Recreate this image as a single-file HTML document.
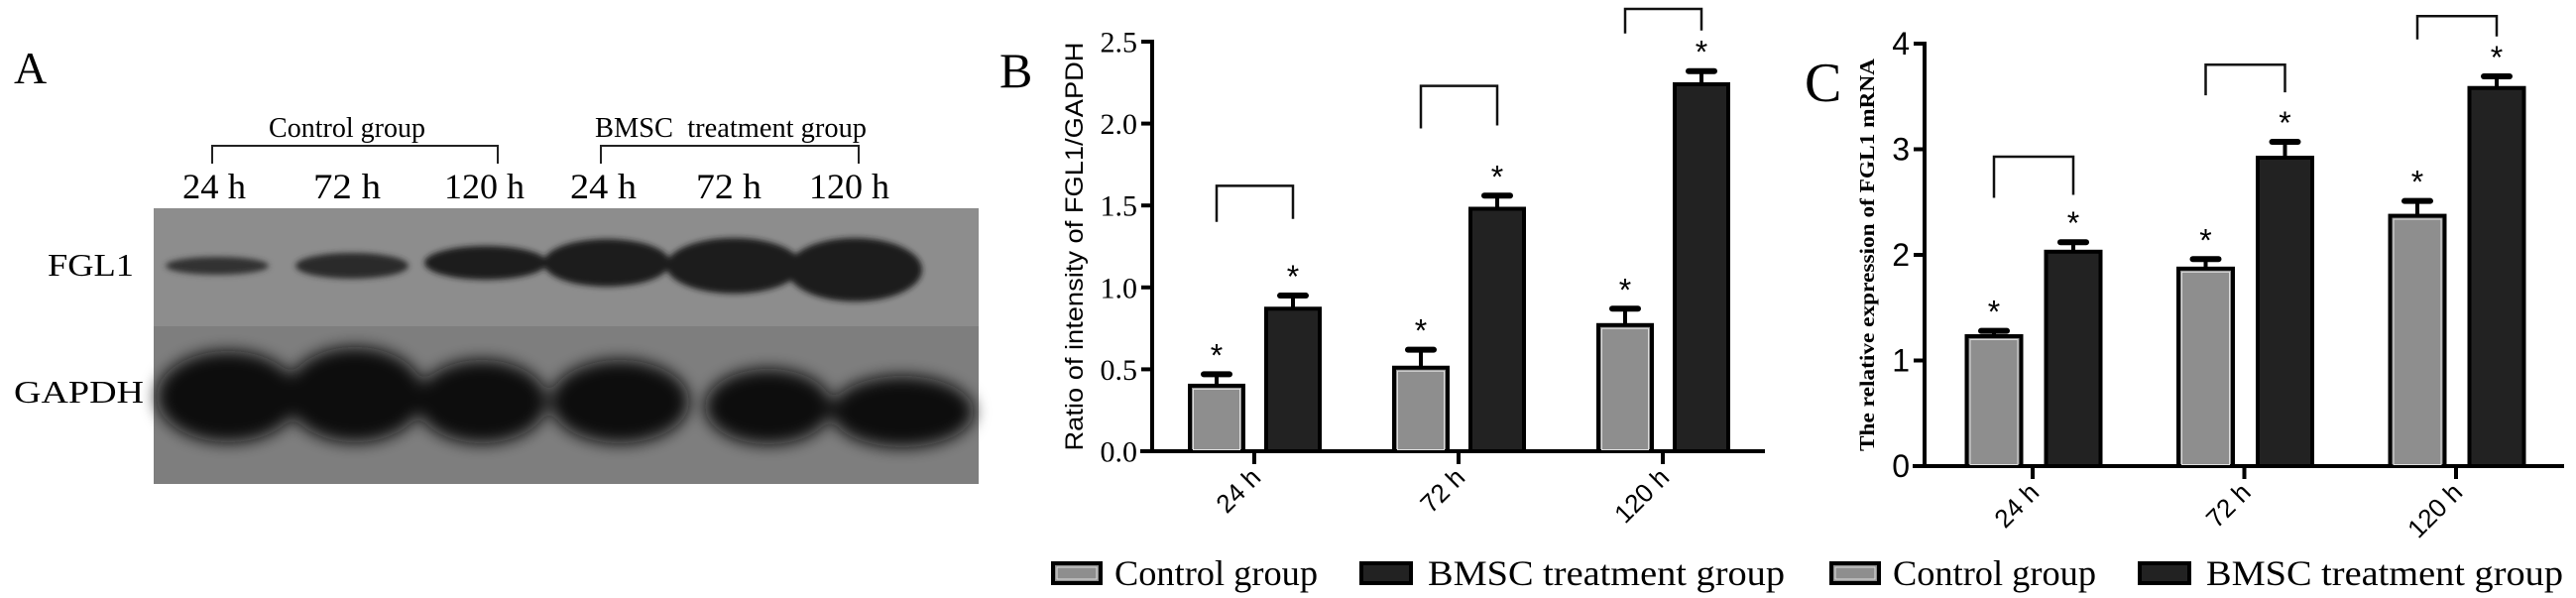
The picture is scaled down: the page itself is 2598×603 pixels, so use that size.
<!DOCTYPE html>
<html><head><meta charset="utf-8"><style>
html,body{margin:0;padding:0;background:#fff;}
svg{display:block;}
</style></head><body>
<svg id="fig" width="2598" height="603" viewBox="0 0 2598 603" xmlns="http://www.w3.org/2000/svg">
<defs>
<filter id="blur6" x="-30%" y="-50%" width="160%" height="200%"><feGaussianBlur stdDeviation="8"/></filter>
<filter id="blur3" x="-30%" y="-50%" width="160%" height="200%"><feGaussianBlur stdDeviation="3"/></filter>
</defs>
<g>
<text x="14" y="84" font-family="Liberation Serif, serif" font-size="46">A</text>
<text x="271" y="138" font-family="Liberation Serif, serif" font-size="28" textLength="158" lengthAdjust="spacingAndGlyphs">Control group</text>
<text x="600" y="138" font-family="Liberation Serif, serif" font-size="28" textLength="274" lengthAdjust="spacingAndGlyphs" xml:space="preserve">BMSC  treatment group</text>
<path d="M214,165 V147 H502 V165" fill="none" stroke="#222" stroke-width="2"/>
<path d="M606,165 V147 H866 V165" fill="none" stroke="#222" stroke-width="2"/>
<g font-family="Liberation Serif, serif" font-size="36">
<text x="184" y="200" textLength="64" lengthAdjust="spacingAndGlyphs">24 h</text>
<text x="316" y="200" textLength="68" lengthAdjust="spacingAndGlyphs">72 h</text>
<text x="448" y="200" textLength="81" lengthAdjust="spacingAndGlyphs">120 h</text>
<text x="575" y="200" textLength="67" lengthAdjust="spacingAndGlyphs">24 h</text>
<text x="702" y="200" textLength="66" lengthAdjust="spacingAndGlyphs">72 h</text>
<text x="816" y="200" textLength="81" lengthAdjust="spacingAndGlyphs">120 h</text>
</g>
<g>
<rect x="155" y="210" width="832" height="120" fill="#8d8d8d"/>
<rect x="155" y="329" width="832" height="159" fill="#7e7e7e"/>
<g filter="url(#blur3)" fill="#1c1c1c">
<ellipse cx="219" cy="268" rx="52" ry="9" fill="#333"/>
<ellipse cx="355" cy="268" rx="57" ry="13" fill="#2a2a2a"/>
<ellipse cx="490" cy="265" rx="62" ry="17"/>
<ellipse cx="612" cy="265" rx="64" ry="24"/>
<ellipse cx="740" cy="268" rx="68" ry="28"/>
<ellipse cx="862" cy="272" rx="68" ry="32"/>
</g>
<g filter="url(#blur6)" fill="#111">
<ellipse cx="230" cy="400" rx="72" ry="46"/>
<ellipse cx="358" cy="398" rx="70" ry="48"/>
<ellipse cx="486" cy="405" rx="66" ry="42"/>
<ellipse cx="625" cy="405" rx="70" ry="42"/>
<ellipse cx="775" cy="410" rx="64" ry="38"/>
<ellipse cx="910" cy="415" rx="72" ry="36"/>
</g>
</g>
<text x="48" y="278" font-family="Liberation Serif, serif" font-size="32" textLength="87" lengthAdjust="spacingAndGlyphs">FGL1</text>
<text x="14" y="406" font-family="Liberation Serif, serif" font-size="32" textLength="131" lengthAdjust="spacingAndGlyphs">GAPDH</text>
</g>
<g id="panelB"></g>
<g id="panelC"></g>
</svg>
<script>
const categoriesB = ["24 h", "72 h", "120 h"];
const controlB = [0.40, 0.51, 0.77];
const controlErrB = [0.07, 0.11, 0.10];
const bmscB = [0.87, 1.48, 2.24];
const bmscErrB = [0.08, 0.08, 0.08];
const ticksB = [0, 0.5, 1.0, 1.5, 2.0, 2.5];
const tickLabelsB = ["0.0", "0.5", "1.0", "1.5", "2.0", "2.5"];
const bracketTopB = [1.62, 2.23, 2.70];
const bracketLegB = [1.40, 1.97, 2.55];
const categoriesC = ["24 h", "72 h", "120 h"];
const controlC = [1.23, 1.87, 2.37];
const controlErrC = [0.05, 0.09, 0.14];
const bmscC = [2.03, 2.92, 3.58];
const bmscErrC = [0.09, 0.15, 0.11];
const ticksC = [0, 1, 2, 3, 4];
const tickLabelsC = ["0", "1", "2", "3", "4"];
const bracketTopC = [2.93, 3.80, 4.26];
const bracketLegC = [2.54, 3.51, 4.04];

const NS = "http://www.w3.org/2000/svg";
function mk(parent, tag, attrs, text) {
  const e = document.createElementNS(NS, tag);
  for (const k in attrs) e.setAttribute(k, attrs[k]);
  if (text !== undefined) e.textContent = text;
  parent.appendChild(e);
  return e;
}

function drawChart(cfg) {
  const g = document.getElementById(cfg.id);
  const y = v => cfg.y0 - (v - cfg.vmin) / (cfg.vmax - cfg.vmin) * (cfg.y0 - cfg.y1);
  const gx = i => cfg.gx0 + i * cfg.gstep;
  const pl = mk(g, "text", {x: cfg.letterX, y: cfg.letterY, "font-family": "Liberation Serif, serif", "font-size": cfg.letterSize}, cfg.letter);
  
  
  const yt = mk(g, "text", {x: 0, y: 0, transform: "translate(" + cfg.titleX + "," + ((cfg.y0 + cfg.y1) / 2) + ") rotate(-90)", "text-anchor": "middle", "font-family": cfg.titleFont, "font-size": cfg.titleSize, "font-weight": cfg.titleWeight, textLength: cfg.titleLen, lengthAdjust: "spacingAndGlyphs"}, cfg.title);
  
  
  const ya = mk(g, "line", {x1: cfg.ax, y1: y(cfg.vmax) - 2, x2: cfg.ax, y2: cfg.y0 + 2, stroke: "#000", "stroke-width": 4});
  
  
  const xa = mk(g, "line", {x1: cfg.ax - 12, y1: cfg.y0, x2: cfg.axEnd, y2: cfg.y0, stroke: "#000", "stroke-width": 4});
  
  
  cfg.ticks.forEach((t, i) => {
    const tk = mk(g, "line", {x1: cfg.ax - 11, y1: y(t), x2: cfg.ax, y2: y(t), stroke: "#000", "stroke-width": 4});
    
    
    const tl = mk(g, "text", {x: cfg.ax - 15, y: y(t) + cfg.tickSize * 0.35, "text-anchor": "end", "font-family": cfg.tickFont, "font-size": cfg.tickSize}, cfg.tickLabels[i]);
    
    
  });
  cfg.cats.forEach((c, i) => {
    const cx = gx(i);
    const xt = mk(g, "line", {x1: cx, y1: cfg.y0, x2: cx, y2: cfg.y0 + 13, stroke: "#000", "stroke-width": 4});
    
    
    const lx = cx + 8, ly = cfg.y0 + 28;
    const xl = mk(g, "text", {x: 0, y: 0, transform: "translate(" + lx + "," + ly + ") rotate(-45)", "text-anchor": "end", "font-family": "Liberation Sans, sans-serif", "font-size": 26}, c);
    
    
    [[cfg.ctrl, cfg.ctrlErr, cx - cfg.off1, "#8e8e8e", "control"], [cfg.bmsc, cfg.bmscErr, cx + cfg.off2, "#222", "bmsc"]].forEach(s => {
      const v = s[0][i], e = s[1][i], bx = s[2];
      const top = v + e;
      const eb = mk(g, "line", {x1: bx, y1: y(v), x2: bx, y2: y(top), stroke: "#000", "stroke-width": 4});
      
      
      const cap = mk(g, "line", {x1: bx - 13, y1: y(top), x2: bx + 13, y2: y(top), stroke: "#000", "stroke-width": 6, "stroke-linecap": "round"});
      
      
      const r = mk(g, "rect", {x: bx - cfg.bw / 2, y: y(v), width: cfg.bw, height: cfg.y0 - y(v), fill: s[3], stroke: "#000", "stroke-width": 4});
      
      
      if (s[4] === "control") {
        const inr = mk(g, "rect", {x: bx - cfg.bw / 2 + 3.5, y: y(v) + 3.5, width: cfg.bw - 7, height: cfg.y0 - y(v) - 5, fill: "none", stroke: "#ddd", "stroke-width": 1});
        
        
      }
      const st = mk(g, "text", {x: bx, y: y(top) - 8, "text-anchor": "middle", "font-family": "Liberation Sans, sans-serif", "font-size": 32}, "*");
      
      
    });
    const l = cx - cfg.off1, rr = cx + cfg.off2;
    const br = mk(g, "path", {d: "M" + l + "," + y(cfg.bLeg[i]) + " V" + y(cfg.bTop[i]) + " H" + rr + " V" + (y(cfg.bLeg[i]) - 3), fill: "none", stroke: "#111", "stroke-width": 2.5});
    
    
  });
  const lg = mk(g, "g", {});
  
  
  const b1 = mk(lg, "rect", {x: cfg.legX, y: 568, width: 48, height: 20, fill: "#8e8e8e", stroke: "#000", "stroke-width": 4});
  
  
  mk(lg, "rect", {x: cfg.legX + 4, y: 572, width: 40, height: 12, fill: "none", stroke: "#ddd", "stroke-width": 1});
  const t1 = mk(lg, "text", {x: cfg.legX + 62, y: 590, "font-family": "Liberation Serif, serif", "font-size": 36, textLength: 205, lengthAdjust: "spacingAndGlyphs"}, "Control group");
  
  
  const b2 = mk(lg, "rect", {x: cfg.legX + 311, y: 568, width: 50, height: 20, fill: "#222", stroke: "#000", "stroke-width": 4});
  
  
  const t2 = mk(lg, "text", {x: cfg.legX + 378, y: 590, "font-family": "Liberation Serif, serif", "font-size": 36, textLength: 360, lengthAdjust: "spacingAndGlyphs", "xml:space": "preserve"}, "BMSC  treatment group");
  
  
}

drawChart({id: "panelB", letter: "B", letterX: 1008, letterY: 88, letterSize: 50,
  title: "Ratio of intensity of FGL1/GAPDH", titleX: 1092, titleFont: "Liberation Sans, sans-serif", titleSize: 25, titleWeight: "normal", titleLen: 412,
  y0: 455, y1: 42, vmin: 0, vmax: 2.5, ax: 1162, axEnd: 1780,
  ticks: ticksB, tickLabels: tickLabelsB, tickFont: "Liberation Serif, serif", tickSize: 30,
  cats: categoriesB, ctrl: controlB, ctrlErr: controlErrB, bmsc: bmscB, bmscErr: bmscErrB,
  bTop: bracketTopB, bLeg: bracketLegB,
  gx0: 1265, gstep: 206, off1: 38, off2: 39, bw: 54, legX: 1062});

drawChart({id: "panelC", letter: "C", letterX: 1820, letterY: 102, letterSize: 56,
  title: "The relative expression of FGL1 mRNA", titleX: 1890, titleFont: "Liberation Serif, serif", titleSize: 21, titleWeight: "bold", titleLen: 396,
  y0: 470, y1: 44, vmin: 0, vmax: 4, ax: 1941, axEnd: 2586,
  ticks: ticksC, tickLabels: tickLabelsC, tickFont: "Liberation Sans, sans-serif", tickSize: 32,
  cats: categoriesC, ctrl: controlC, ctrlErr: controlErrC, bmsc: bmscC, bmscErr: bmscErrC,
  bTop: bracketTopC, bLeg: bracketLegC,
  gx0: 2050, gstep: 213.5, off1: 39, off2: 41, bw: 55, legX: 1847});
</script>
</body></html>
